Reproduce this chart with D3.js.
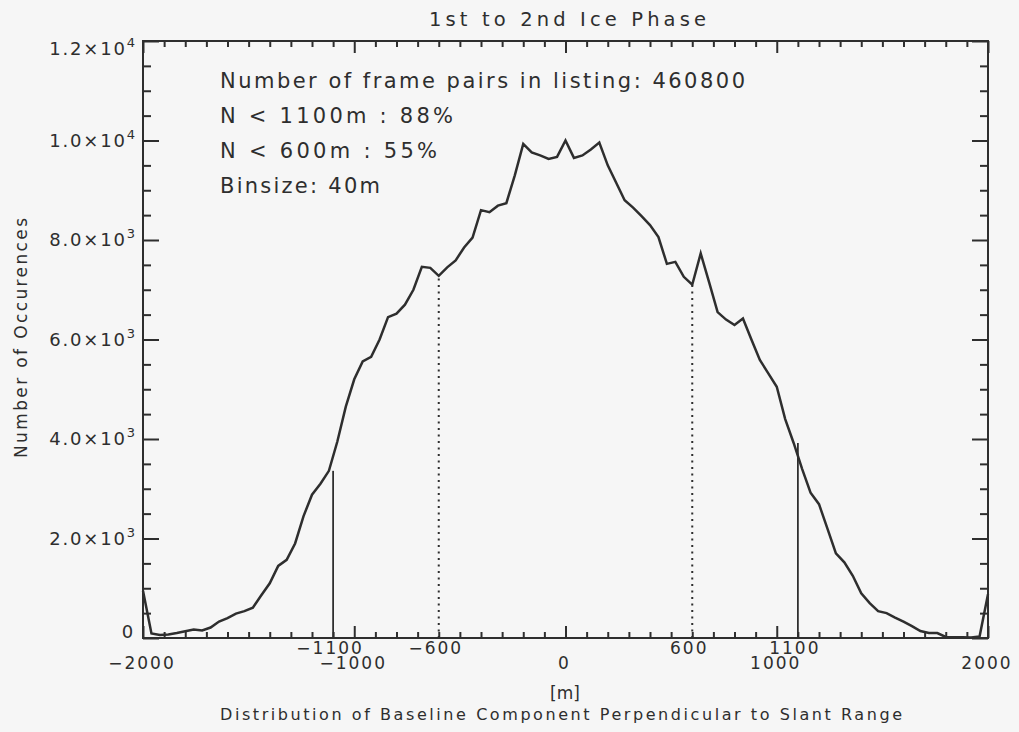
<!DOCTYPE html>
<html>
<head>
<meta charset="utf-8">
<script src="https://cdn.jsdelivr.net/npm/d3@7"></script>
<style>
  body { margin: 0; background: #f6f6f6; }
  svg text { font-family: "DejaVu Sans", sans-serif; fill: #2e2e2e; }
</style>
</head>
<body>
<svg id="chart" width="1019" height="732"></svg>
<script>
// Histogram of the perpendicular baseline component, 40 m bins from -2000 m to +2000 m
const binStart = -2000;
const binSize = 40;
const counts = [
  950, 90, 60, 70, 100, 135, 170, 150, 210, 330,
  400, 490, 540, 610, 860, 1100, 1450, 1570, 1900, 2450,
  2880, 3100, 3360, 3950, 4650, 5200, 5560, 5650, 6000, 6450,
  6520, 6700, 7000, 7460, 7440, 7280, 7450, 7590, 7850, 8050,
  8600, 8560, 8690, 8740, 9300, 9930, 9760, 9700, 9630, 9670,
  10000, 9650, 9700, 9820, 9960, 9500, 9150, 8800, 8650, 8480,
  8300, 8060, 7520, 7560, 7260, 7100, 7730, 7150, 6550, 6400,
  6290, 6420, 6000, 5590, 5320, 5050, 4400, 3920, 3400, 2920,
  2690, 2200, 1700, 1520, 1250, 900, 700, 540, 500, 410,
  330, 240, 140, 100, 100, 20, 15, 15, 10, 30,
  880
];
const baselines = counts.map((_, i) => binStart + i * binSize);

// Axis ticks and labels
const xMajorTicks = [-2000, -1000, 0, 1000, 2000];
const xMinorTicks = d3.range(-2000, 2001, 100).filter(v => v % 1000 !== 0);
const xTickLabels = ["\u22122000", "\u22121000", "0", "1000", "2000"];
const yMajorTicks = [0, 2000, 4000, 6000, 8000, 10000, 12000];
const yMinorTicks = d3.range(0, 12001, 500).filter(v => v % 2000 !== 0);
const yTickMantissa = ["0", "2.0\u00d710", "4.0\u00d710", "6.0\u00d710", "8.0\u00d710", "1.0\u00d710", "1.2\u00d710"];
const yTickExponent = ["", "3", "3", "3", "3", "4", "4"];

// Threshold markers on the baseline axis
const markerPositions = [-1100, -600, 600, 1100];
const markerStyles = ["solid", "dotted", "dotted", "solid"];
const markerLabels = ["\u22121100", "\u2212600", "600", "1100"];

const titleText = "1st to 2nd Ice Phase";
const infoLines = [
  "Number of frame pairs in listing: 460800",
  "N < 1100m : 88%",
  "N < 600m : 55%",
  "Binsize: 40m"
];
const infoWidths = [525, 233, 217, 160];
const xTitle = "[m]";
const xSubtitle = "Distribution of Baseline Component Perpendicular to Slant Range";
const yTitle = "Number of Occurences";

const ink = "#2e2e2e";
const svg = d3.select("#chart");
svg.append("rect").attr("width", 1019).attr("height", 732).attr("fill", "#f6f6f6");

const plotLeft = 143, plotRight = 988, plotTop = 41, plotBottom = 638;
const x = d3.scaleLinear().domain([-2000, 2000]).range([plotLeft, plotRight]);
const y = d3.scaleLinear().domain([0, 12000]).range([plotBottom, plotTop]);

// Inward-pointing ticks on all four sides
function tickAxis(axisFn, scale, values, size, transform) {
  const g = svg.append("g").attr("transform", transform)
    .call(axisFn(scale).tickValues(values).tickSize(size).tickSizeOuter(0).tickFormat(""));
  g.select(".domain").remove();
  g.selectAll(".tick line").attr("stroke", ink).attr("stroke-width", 2);
  return g;
}
tickAxis(d3.axisBottom, x, xMajorTicks, -12, `translate(0,${plotBottom})`);
tickAxis(d3.axisBottom, x, xMinorTicks, -6, `translate(0,${plotBottom})`);
tickAxis(d3.axisTop, x, xMajorTicks, -12, `translate(0,${plotTop})`);
tickAxis(d3.axisTop, x, xMinorTicks, -6, `translate(0,${plotTop})`);
tickAxis(d3.axisLeft, y, yMajorTicks, -16, `translate(${plotLeft},0)`);
tickAxis(d3.axisLeft, y, yMinorTicks, -8, `translate(${plotLeft},0)`);
tickAxis(d3.axisRight, y, yMajorTicks, -16, `translate(${plotRight},0)`);
tickAxis(d3.axisRight, y, yMinorTicks, -8, `translate(${plotRight},0)`);

svg.append("rect")
  .attr("x", plotLeft).attr("y", plotTop)
  .attr("width", plotRight - plotLeft).attr("height", plotBottom - plotTop)
  .attr("fill", "none").attr("stroke", ink).attr("stroke-width", 2);

// Threshold marker lines, each rising to the count of the bin it falls in
markerPositions.forEach((pos, i) => {
  const bin = Math.floor((pos - binStart) / binSize);
  const line = svg.append("line")
    .attr("x1", x(pos)).attr("x2", x(pos))
    .attr("y1", y(0)).attr("y2", y(counts[bin]))
    .attr("stroke", ink);
  if (markerStyles[i] === "dotted") {
    line.attr("stroke-width", 2).attr("stroke-dasharray", "2 4.5");
  } else {
    line.attr("stroke-width", 1.8);
  }
});

// Histogram curve
const curve = d3.line()
  .x((d, i) => x(baselines[i]))
  .y(d => y(d));
svg.append("path")
  .datum(counts)
  .attr("d", curve)
  .attr("fill", "none")
  .attr("stroke", ink)
  .attr("stroke-width", 2.5)
  .attr("stroke-linejoin", "miter");

// X tick labels
svg.append("g").selectAll("text")
  .data(xMajorTicks)
  .join("text")
  .attr("x", d => x(d) - 1)
  .attr("y", 669)
  .attr("text-anchor", "middle")
  .attr("font-size", 17)
  .attr("letter-spacing", 2)
  .text((d, i) => xTickLabels[i]);

// Threshold labels sit just above the regular tick labels
svg.append("g").selectAll("text")
  .data(markerPositions)
  .join("text")
  .attr("x", d => x(d) - 3)
  .attr("y", 654)
  .attr("text-anchor", "middle")
  .attr("font-size", 17)
  .attr("letter-spacing", 2)
  .text((d, i) => markerLabels[i]);

// Y tick labels with power-of-ten exponents
const yLabels = svg.append("g").selectAll("text")
  .data(yMajorTicks)
  .join("text")
  .attr("x", 135)
  .attr("y", d => Math.min(Math.max(y(d) + 6, plotTop + 14), plotBottom))
  .attr("text-anchor", "end")
  .attr("font-size", 18)
  .attr("letter-spacing", 1.8);
yLabels.append("tspan").text((d, i) => yTickMantissa[i]);
yLabels.append("tspan")
  .attr("dy", -8)
  .attr("font-size", 13)
  .attr("letter-spacing", 0)
  .text((d, i) => yTickExponent[i]);

// Titles
svg.append("text")
  .attr("x", 429).attr("y", 26)
  .attr("font-size", 19.5)
  .attr("textLength", 277).attr("lengthAdjust", "spacing")
  .text(titleText);

svg.append("text")
  .attr("x", 565).attr("y", 699)
  .attr("text-anchor", "middle")
  .attr("font-size", 17)
  .text(xTitle);

svg.append("text")
  .attr("x", 220).attr("y", 720)
  .attr("font-size", 16)
  .attr("textLength", 682).attr("lengthAdjust", "spacing")
  .text(xSubtitle);

svg.append("text")
  .attr("transform", "translate(27,458) rotate(-90)")
  .attr("font-size", 17)
  .attr("textLength", 240).attr("lengthAdjust", "spacing")
  .text(yTitle);

// Summary block inside the plot
svg.append("g").selectAll("text")
  .data(infoLines)
  .join("text")
  .attr("x", 220)
  .attr("y", (d, i) => 88 + i * 35)
  .attr("font-size", 21)
  .attr("textLength", (d, i) => infoWidths[i])
  .attr("lengthAdjust", "spacing")
  .text(d => d);
</script>
</body>
</html>
